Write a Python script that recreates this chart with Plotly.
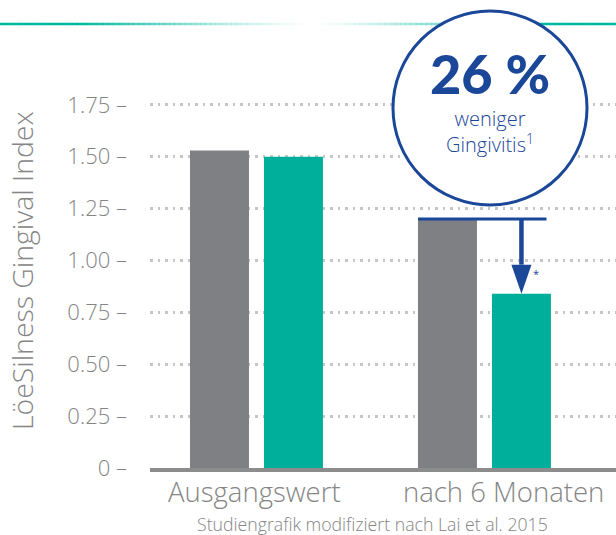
import plotly.graph_objects as go

# ---- data ----
categories = ["Ausgangswert", "nach 6 Monaten"]
gray_values = [1.53, 1.20]
teal_values = [1.50, 0.84]
y_ticks = [0, 0.25, 0.5, 0.75, 1.0, 1.25, 1.5, 1.75]
y_ticktext = ["0 –", "0.25 –", "0.50 –", "0.75 –", "1.00 –", "1.25 –", "1.50 –", "1.75 –"]
y_title = "LöeSilness Gingival Index"
footnote = "Studiengrafik modifiziert nach Lai et al. 2015"
callout_big = "26 %"
callout_small = "weniger<br>Gingivitis<sup>1</sup>"

GRAY = "#7f8084"
TEAL = "#00ae9c"
BLUE = "#1b4799"
TXT = "#858585"
FONT = "Open Sans"
FW = 300

W, H = 616, 535
ML, MR, MT, MB = 150, 0, 53, 67
plot_w = W - ML - MR
plot_h = H - MT - MB
Y_MAX = 2.0
X_RANGE = [-0.467, 1.577]
x_idx = list(range(len(categories)))

fig = go.Figure()
fig.add_trace(go.Bar(x=x_idx, y=gray_values, marker=dict(color=GRAY, line=dict(width=0)),
                     showlegend=False, hoverinfo="skip"))
fig.add_trace(go.Bar(x=x_idx, y=teal_values, marker=dict(color=TEAL, line=dict(width=0)),
                     showlegend=False, hoverinfo="skip"))

bargap = 0.351
bargroupgap = 0.2027

slot = (1 - bargap) / 2
bar_w = slot * (1 - bargroupgap)

def px_to_paper_x(px):
    return (px - ML) / plot_w

def px_to_paper_y(py):
    return (H - MB - py) / plot_h

shapes = []
# gradient top rule
n = 120
y_rule = px_to_paper_y(24)
for i in range(n):
    x0 = W * i / n
    x1 = W * (i + 1) / n
    xc = (x0 + x1) / 2
    a = min(1.0, abs(xc - 310) / 230) ** 1.3
    shapes.append(dict(type="line", xref="paper", yref="paper",
                       x0=px_to_paper_x(x0), x1=px_to_paper_x(x1) + 0.001,
                       y0=y_rule, y1=y_rule,
                       line=dict(color=f"rgba(0,184,160,{a:.3f})", width=2.5),
                       layer="above"))

# callout circle
cx, cy, r = 490, 108, 97
shapes.append(dict(type="circle", xref="paper", yref="paper",
                   x0=px_to_paper_x(cx - r), x1=px_to_paper_x(cx + r),
                   y0=px_to_paper_y(cy + r), y1=px_to_paper_y(cy - r),
                   fillcolor="white", line=dict(color=BLUE, width=3), layer="above"))

# reduction bracket on second group
g = 1
gray_left = g - slot + (slot - bar_w) / 2
teal_center = g + slot / 2
shapes.append(dict(type="line", xref="x", yref="y",
                   x0=gray_left, x1=teal_center + 0.11,
                   y0=gray_values[g], y1=gray_values[g],
                   line=dict(color=BLUE, width=3), layer="above"))
head_len = 0.14
head_half = 0.044
shapes.append(dict(type="line", xref="x", yref="y",
                   x0=teal_center, x1=teal_center,
                   y0=gray_values[g], y1=teal_values[g] + head_len,
                   line=dict(color=BLUE, width=4.5), layer="above"))
shapes.append(dict(type="path", xref="x", yref="y",
                   path=(f"M {teal_center - head_half} {teal_values[g] + head_len} "
                         f"L {teal_center + head_half} {teal_values[g] + head_len} "
                         f"L {teal_center} {teal_values[g]} Z"),
                   fillcolor=BLUE, line=dict(color=BLUE, width=0), layer="above"))

annotations = [
    dict(text=callout_big, xref="paper", yref="paper", x=px_to_paper_x(cx), y=px_to_paper_y(73),
         showarrow=False, font=dict(family="Lato", size=54, color=BLUE, weight=900),
         xanchor="center", yanchor="middle"),
    dict(text=callout_small, xref="paper", yref="paper", x=px_to_paper_x(cx), y=px_to_paper_y(131),
         showarrow=False, font=dict(family=FONT, size=20, color=BLUE, weight=FW),
         xanchor="center", yanchor="middle", align="center"),
    dict(text="*", xref="x", yref="y", x=teal_center + 0.062, y=teal_values[g] + 0.095,
         showarrow=False, font=dict(family=FONT, size=11, color=BLUE)),
    dict(text=y_title, xref="paper", yref="paper", x=px_to_paper_x(22), y=px_to_paper_y(271),
         showarrow=False, textangle=-90, font=dict(family=FONT, size=28.4, color=TXT, weight=FW),
         xanchor="center", yanchor="middle"),
    dict(text=footnote, xref="paper", yref="paper", x=px_to_paper_x(372), y=px_to_paper_y(524),
         showarrow=False, font=dict(family=FONT, size=17.7, color=TXT, weight=FW),
         xanchor="center", yanchor="middle"),
]
label_px = [254.5, 503]
for lab, lp in zip(categories, label_px):
    annotations.append(dict(text=lab, xref="paper", yref="paper", x=px_to_paper_x(lp),
                            y=px_to_paper_y(491), showarrow=False,
                            font=dict(family=FONT, size=27.5, color=TXT, weight=FW),
                            xanchor="center", yanchor="middle"))

fig.update_layout(
    width=W, height=H,
    margin=dict(l=ML, r=MR, t=MT, b=MB, pad=0),
    paper_bgcolor="white", plot_bgcolor="white",
    barmode="group", bargap=bargap, bargroupgap=bargroupgap,
    shapes=shapes, annotations=annotations,
    xaxis=dict(range=X_RANGE, showticklabels=False, showgrid=False, zeroline=False,
               showline=True, linecolor="#8c8c8c", linewidth=3.5, ticks="", fixedrange=True),
    yaxis=dict(range=[0, Y_MAX], tickvals=y_ticks, ticktext=y_ticktext,
               showgrid=True, gridcolor="#c6c6c6", gridwidth=2.5, griddash="2.5px,5px",
               zeroline=False, showline=False, ticks="", ticklabelstandoff=22,
               tickfont=dict(family=FONT, size=22, color=TXT, weight=FW), fixedrange=True),
    font=dict(family=FONT),
)

fig.write_html("out.html", config={"displayModeBar": False},
               post_script="document.body.style.margin='0';document.body.style.overflow='hidden';")
